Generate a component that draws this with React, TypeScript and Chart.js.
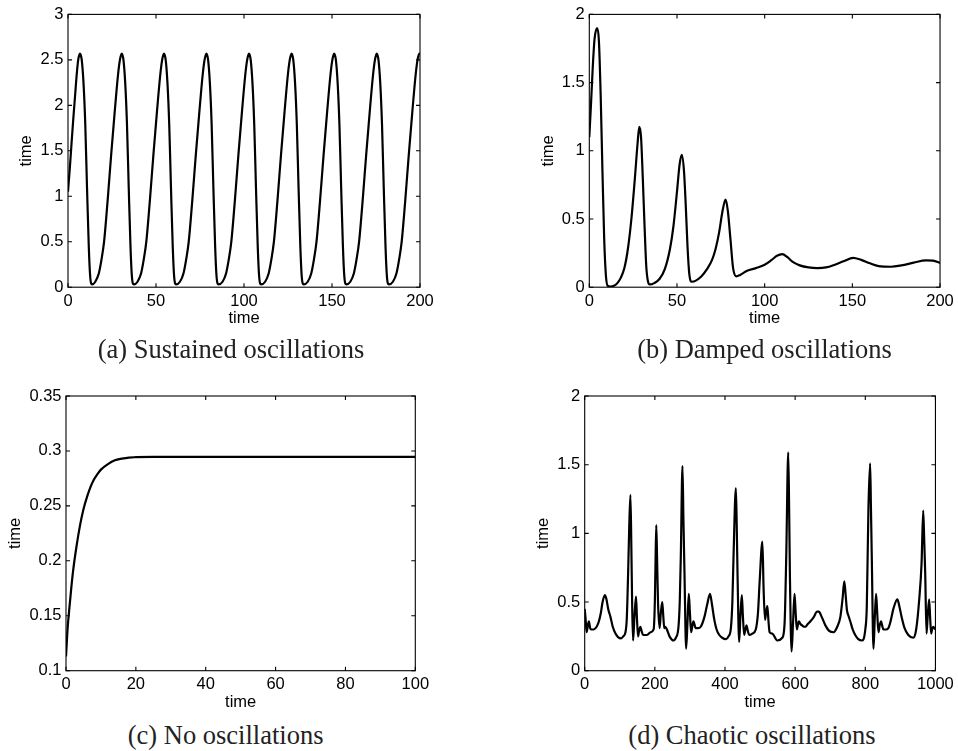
import React, { useEffect, useRef } from "react";
import { Chart, registerables } from "chart.js";

Chart.register(...registerables);

// ---------- (a) Sustained oscillations ----------
const aTime = [
  0, 1, 2, 3, 4, 5, 5.8, 6.8, 7.8, 8.8, 9.8, 10.8, 11.8, 12.6, 13.7,
  15.5, 17.5, 19, 20.5, 22.5, 24.5, 26.5, 28.5, 29.5, 30.5, 31.5, 32.5, 33.5, 34.5, 35.5, 36.3, 37.4,
  39.5, 41.5, 43, 44.5, 46.5, 48.5, 50.5, 52.5, 53.5, 54.5, 55.5, 56.5, 57.5, 58.5, 59.5, 60.3, 61.4,
  63.6, 65.6, 67.1, 68.6, 70.6, 72.6, 74.6, 76.6, 77.6, 78.6, 79.6, 80.6, 81.6, 82.6, 83.6, 84.4, 85.5,
  87.8, 89.8, 91.3, 92.8, 94.8, 96.8, 98.8, 100.8, 101.8, 102.8, 103.8, 104.8, 105.8, 106.8, 107.8, 108.6, 109.7,
  112, 114, 115.5, 117, 119, 121, 123, 125, 126, 127, 128, 129, 130, 131, 132, 132.8, 133.9,
  136.2, 138.2, 139.7, 141.2, 143.2, 145.2, 147.2, 149.2, 150.2, 151.2, 152.2, 153.2, 154.2, 155.2, 156.2, 157, 158.1,
  160.4, 162.4, 163.9, 165.4, 167.4, 169.4, 171.4, 173.4, 174.4, 175.4, 176.4, 177.4, 178.4, 179.4, 180.4, 181.2, 182.3,
  184.6, 186.6, 188.1, 189.6, 191.6, 193.6, 195.6, 197.6, 198.6, 199.6, 200,
];
const aValue = [
  1.05, 1.3, 1.58, 1.85, 2.1, 2.35, 2.5, 2.57, 2.5, 2.25, 1.8, 1.1, 0.45, 0.12, 0.03,
  0.06, 0.15, 0.3, 0.5, 0.95, 1.45, 1.92, 2.35, 2.5, 2.57, 2.5, 2.25, 1.8, 1.1, 0.45, 0.12, 0.03,
  0.06, 0.15, 0.3, 0.5, 0.95, 1.45, 1.92, 2.35, 2.5, 2.57, 2.5, 2.25, 1.8, 1.1, 0.45, 0.12, 0.03,
  0.06, 0.15, 0.3, 0.5, 0.95, 1.45, 1.92, 2.35, 2.5, 2.57, 2.5, 2.25, 1.8, 1.1, 0.45, 0.12, 0.03,
  0.06, 0.15, 0.3, 0.5, 0.95, 1.45, 1.92, 2.35, 2.5, 2.57, 2.5, 2.25, 1.8, 1.1, 0.45, 0.12, 0.03,
  0.06, 0.15, 0.3, 0.5, 0.95, 1.45, 1.92, 2.35, 2.5, 2.57, 2.5, 2.25, 1.8, 1.1, 0.45, 0.12, 0.03,
  0.06, 0.15, 0.3, 0.5, 0.95, 1.45, 1.92, 2.35, 2.5, 2.57, 2.5, 2.25, 1.8, 1.1, 0.45, 0.12, 0.03,
  0.06, 0.15, 0.3, 0.5, 0.95, 1.45, 1.92, 2.35, 2.5, 2.57, 2.5, 2.25, 1.8, 1.1, 0.45, 0.12, 0.03,
  0.06, 0.15, 0.3, 0.5, 0.95, 1.45, 1.92, 2.35, 2.5, 2.57, 2.56,
];
const aXTicks = [0, 50, 100, 150, 200];
const aYTicks = [0, 0.5, 1, 1.5, 2, 2.5, 3];

// ---------- (b) Damped oscillations ----------
const bTime = [
  0, 1, 2, 3, 4.5, 5.5, 6.5, 7.5, 8.5, 9.5, 10.5, 12, 14, 16, 18, 20, 22, 24, 26, 27.5, 28.5,
  29.5, 30.5, 31.5, 32.5, 33.5, 34.5, 37, 40, 43, 46, 48, 50, 51.5, 52.7, 54, 55, 56, 57, 58.5,
  61, 64, 67, 70, 72, 74, 76, 77.7, 79, 80.5, 82, 83.8, 86, 90, 95, 100, 104, 107, 110, 113,
  116, 120, 125, 130, 135, 140, 145, 150.5, 155, 160, 165, 172, 178, 185, 192, 196, 200,
];
const bValue = [
  1.1, 1.35, 1.62, 1.82, 1.9, 1.8, 1.4, 0.85, 0.35, 0.08, 0.01, 0.005, 0.01, 0.03, 0.07, 0.14, 0.28, 0.5, 0.8, 1.05, 1.175,
  1.1, 0.8, 0.45, 0.15, 0.04, 0.02, 0.03, 0.06, 0.13, 0.28, 0.45, 0.7, 0.9, 0.97, 0.85, 0.6, 0.3, 0.1, 0.04,
  0.05, 0.08, 0.13, 0.2, 0.28, 0.4, 0.56, 0.643, 0.56, 0.35, 0.14, 0.08, 0.09, 0.12, 0.14, 0.165, 0.2, 0.23, 0.243, 0.22,
  0.185, 0.16, 0.145, 0.14, 0.145, 0.165, 0.19, 0.215, 0.2, 0.175, 0.155, 0.15, 0.16, 0.18, 0.197, 0.195, 0.178,
];
const bXTicks = [0, 50, 100, 150, 200];
const bYTicks = [0, 0.5, 1, 1.5, 2];

// ---------- (c) No oscillations ----------
const cTime = [0, 0.5, 1, 1.5, 2, 3, 4, 5, 6, 7, 8, 9, 10, 12, 14, 16, 18, 20, 25, 30, 40, 60, 80, 100];
const cValue = [
  0.113, 0.14, 0.158, 0.175, 0.19, 0.213, 0.232, 0.247, 0.258, 0.267, 0.274, 0.279, 0.283, 0.288,
  0.2915, 0.293, 0.294, 0.2943, 0.2946, 0.2946, 0.2946, 0.2946, 0.2946, 0.2946,
];
const cXTicks = [0, 20, 40, 60, 80, 100];
const cYTicks = [0.1, 0.15, 0.2, 0.25, 0.3, 0.35];

// ---------- (d) Chaotic oscillations ----------
const dTime = [
  0, 2.5, 5.5, 9, 12, 15.5, 19, 25, 31, 36, 40.5, 46, 51, 57.6, 62, 67, 73.6, 80, 87.8, 95, 103.9, 110,
  116.2, 120, 123.8, 127, 130.4, 133, 135.5, 137.9, 142, 146.4, 149, 152.1, 155, 158.7, 162, 166.3, 177.6,
  188, 196.5, 200, 202, 204.1, 206.5, 209, 213.5, 217, 221.1, 224, 226.8, 230, 234.4, 241.9, 253.3, 260,
  267.4, 271, 274, 278.8, 281.5, 284.5, 289.2, 293, 296.8, 300, 303.4, 306.5, 310, 316.6, 323, 330.8,
  341.2, 349, 357.3, 363, 369.6, 376, 383.7, 392, 402.6, 410, 416.8, 421, 424.3, 431, 433.5, 435.7, 440.4,
  444, 448, 451, 454.6, 458, 461.2, 465, 468.8, 478, 487.7, 494, 499, 506.6, 510, 514.1, 517, 520.7, 524,
  527.3, 534.9, 549.1, 563.3, 570, 574.6, 580.3, 583, 585, 589.8, 594, 598.3, 601.5, 604.9, 607.5, 610.6,
  615, 620, 625, 629.5, 636, 643.7, 653, 662.6, 667.3, 676, 686.2, 697, 709.9, 720, 728.8, 735, 740.1, 744,
  747.7, 752, 757.1, 764, 771.3, 780, 790.2, 800, 804.3, 809, 813.8, 816, 818.5, 823.3, 827, 830.8, 834,
  837.5, 841, 845, 848, 851.7, 858, 865.8, 873, 880, 891.4, 897, 903.7, 912, 922.6, 936.8, 945, 953.8,
  960.4, 965.1, 968, 970.8, 974.6, 978, 982.1, 985, 987.8, 990.5, 993.5, 1000,
];
const dValue = [
  0.45, 0.38, 0.28, 0.33, 0.36, 0.31, 0.3, 0.3, 0.31, 0.33, 0.36, 0.42, 0.5, 0.55, 0.52, 0.45, 0.39, 0.32, 0.27, 0.245, 0.236, 0.25,
  0.28, 0.38, 0.71, 1.05, 1.28, 0.9, 0.45, 0.22, 0.4, 0.54, 0.38, 0.25, 0.29, 0.32, 0.29, 0.26, 0.26,
  0.28, 0.3, 0.5, 0.8, 1.06, 0.8, 0.5, 0.31, 0.42, 0.5, 0.4, 0.31, 0.32, 0.3, 0.25, 0.22, 0.24,
  0.32, 0.5, 0.83, 1.49, 1.1, 0.71, 0.16, 0.35, 0.56, 0.42, 0.28, 0.32, 0.36, 0.31, 0.31, 0.32,
  0.39, 0.48, 0.56, 0.48, 0.37, 0.3, 0.26, 0.24, 0.23, 0.25, 0.31, 0.5, 0.83, 1.33, 1.05, 0.71, 0.21,
  0.4, 0.55, 0.4, 0.26, 0.3, 0.33, 0.29, 0.26, 0.27, 0.3, 0.42, 0.66, 0.94, 0.6, 0.37, 0.42, 0.47, 0.36,
  0.28, 0.27, 0.22, 0.24, 0.35, 0.83, 1.59, 1.15, 0.71, 0.14, 0.35, 0.56, 0.42, 0.3, 0.33, 0.36,
  0.34, 0.33, 0.32, 0.32, 0.34, 0.36, 0.39, 0.43, 0.43, 0.39, 0.33, 0.29, 0.28, 0.32, 0.39, 0.52, 0.65, 0.55,
  0.44, 0.4, 0.36, 0.3, 0.26, 0.23, 0.22, 0.3, 0.47, 1.19, 1.51, 1.2, 0.83, 0.16, 0.38, 0.56, 0.42,
  0.28, 0.33, 0.36, 0.33, 0.3, 0.3, 0.31, 0.37, 0.45, 0.52, 0.47, 0.39, 0.31, 0.26, 0.24, 0.3, 0.52,
  0.78, 1.165, 0.95, 0.71, 0.27, 0.4, 0.52, 0.38, 0.27, 0.3, 0.32, 0.3,
];
const dXTicks = [0, 200, 400, 600, 800, 1000];
const dYTicks = [0, 0.5, 1, 1.5, 2];

const xTitle = "time";
const yTitle = "time";
const captions = [
  "(a) Sustained oscillations",
  "(b) Damped oscillations",
  "(c) No oscillations",
  "(d) Chaotic oscillations",
];

// ---------- layout (page coordinates) ----------
const FS = 16.5;
const HALF = (FS * 1.2) / 2;

type Panel = {
  time: number[]; value: number[]; xTicks: number[]; yTicks: number[];
  cx: number; cy: number; cw: number; ch: number;
  plotL: number; plotR: number; plotT: number; plotB: number;
  yTitleX: number; xTitleY: number;
  capX: number; capTop: number; caption: string;
};

const panels: Panel[] = [
  { time: aTime, value: aValue, xTicks: aXTicks, yTicks: aYTicks,
    cx: 0, cy: 0, cw: 479, ch: 335, plotL: 68, plotR: 420, plotT: 12.7, plotB: 287.2,
    yTitleX: 26, xTitleY: 318.3, capX: 231, capTop: 334, caption: captions[0] },
  { time: bTime, value: bValue, xTicks: bXTicks, yTicks: bYTicks,
    cx: 479, cy: 0, cw: 479, ch: 335, plotL: 589.3, plotR: 942, plotT: 12.7, plotB: 287.2,
    yTitleX: 548.3, xTitleY: 318.3, capX: 764.5, capTop: 334, caption: captions[1] },
  { time: cTime, value: cValue, xTicks: cXTicks, yTicks: cYTicks,
    cx: 0, cy: 380, cw: 479, ch: 340, plotL: 66, plotR: 415.3, plotT: 396, plotB: 670.7,
    yTitleX: 15, xTitleY: 702.7, capX: 225.6, capTop: 719.8, caption: captions[2] },
  { time: dTime, value: dValue, xTicks: dXTicks, yTicks: dYTicks,
    cx: 479, cy: 380, cw: 479, ch: 340, plotL: 584.7, plotR: 937.3, plotT: 396, plotB: 670.7,
    yTitleX: 543, xTitleY: 702.7, capX: 752, capTop: 719.8, caption: captions[3] },
];

const fmt = (v: number | string) => String(Number(Number(v).toFixed(4)));

const framePlugin = {
  id: "frame",
  afterDatasetsDraw(chart: any) {
    const { ctx, chartArea } = chart;
    const { left, right, top, bottom } = chartArea;
    const x = chart.scales.x;
    const y = chart.scales.y;
    ctx.save();
    ctx.strokeStyle = "#000";
    ctx.lineWidth = 1.1;
    ctx.strokeRect(left, top, right - left, bottom - top);
    ctx.beginPath();
    const L = 4;
    x.ticks.forEach((t: any) => {
      const px = x.getPixelForValue(t.value);
      ctx.moveTo(px, bottom); ctx.lineTo(px, bottom - L);
      ctx.moveTo(px, top); ctx.lineTo(px, top + L);
    });
    y.ticks.forEach((t: any) => {
      const py = y.getPixelForValue(t.value);
      ctx.moveTo(left, py); ctx.lineTo(left + L, py);
      ctx.moveTo(right, py); ctx.lineTo(right - L, py);
    });
    ctx.stroke();
    ctx.restore();
  },
};

function PanelChart({ p }: { p: Panel }) {
  const ref = useRef<HTMLCanvasElement | null>(null);
  useEffect(() => {
    if (!ref.current) return;
    const padLeft = p.yTitleX - p.cx - HALF;
    const yWidth = p.plotL - p.yTitleX + HALF;
    const padRight = p.cx + p.cw - p.plotR;
    const padTop = p.plotT - p.cy;
    const padBottom = p.cy + p.ch - (p.xTitleY + HALF);
    const xHeight = p.xTitleY + HALF - p.plotB;
    const font = { family: "'Liberation Sans', Arial, Helvetica, sans-serif", size: FS, lineHeight: 1.2 };
    const chart = new Chart(ref.current, {
      type: "line",
      data: {
        datasets: [
          {
            data: p.time.map((t, i) => ({ x: t, y: p.value[i] })),
            borderColor: "#000",
            borderWidth: 2.2,
            pointRadius: 0,
            fill: false,
            cubicInterpolationMode: "monotone",
          },
        ],
      },
      options: {
        animation: false,
        responsive: false,
        devicePixelRatio: 1,
        layout: {
          autoPadding: false,
          padding: { left: padLeft, right: padRight, top: padTop, bottom: padBottom },
        },
        plugins: { legend: { display: false }, tooltip: { enabled: false } },
        scales: {
          x: {
            type: "linear",
            min: p.xTicks[0],
            max: p.xTicks[p.xTicks.length - 1],
            grid: { display: false, drawTicks: false },
            border: { display: false },
            afterBuildTicks: (axis: any) => { axis.ticks = p.xTicks.map((v) => ({ value: v })); },
            afterFit: (axis: any) => { axis.height = xHeight; },
            ticks: { color: "#000", font, padding: 4.2, maxRotation: 0, autoSkip: false, callback: (v: any) => fmt(v) },
            title: { display: true, text: xTitle, color: "#000", font, padding: 0 },
          },
          y: {
            type: "linear",
            min: p.yTicks[0],
            max: p.yTicks[p.yTicks.length - 1],
            grid: { display: false, drawTicks: false },
            border: { display: false },
            afterBuildTicks: (axis: any) => { axis.ticks = p.yTicks.map((v) => ({ value: v })); },
            afterFit: (axis: any) => { axis.width = yWidth; },
            ticks: { color: "#000", font, padding: 4.5, autoSkip: false, callback: (v: any) => fmt(v) },
            title: { display: true, text: yTitle, color: "#000", font, padding: 0 },
          },
        },
      },
      plugins: [framePlugin],
    } as any);
    return () => chart.destroy();
  }, [p]);
  return (
    <>
      <canvas
        ref={ref}
        width={p.cw}
        height={p.ch}
        style={{ position: "absolute", left: p.cx, top: p.cy, width: p.cw, height: p.ch }}
      />
      <div
        style={{
          position: "absolute",
          left: p.capX - 200,
          top: p.capTop,
          width: 400,
          textAlign: "center",
          fontFamily: "'Liberation Serif', 'Times New Roman', serif",
          fontSize: 26.5,
          lineHeight: "30px",
          color: "#222",
          whiteSpace: "nowrap",
        }}
      >
        {p.caption}
      </div>
    </>
  );
}

export default function App() {
  return (
    <div style={{ position: "absolute", left: 0, top: 0, width: 958, height: 751, background: "#fff" }}>
      {panels.map((p, i) => (
        <PanelChart key={i} p={p} />
      ))}
    </div>
  );
}
